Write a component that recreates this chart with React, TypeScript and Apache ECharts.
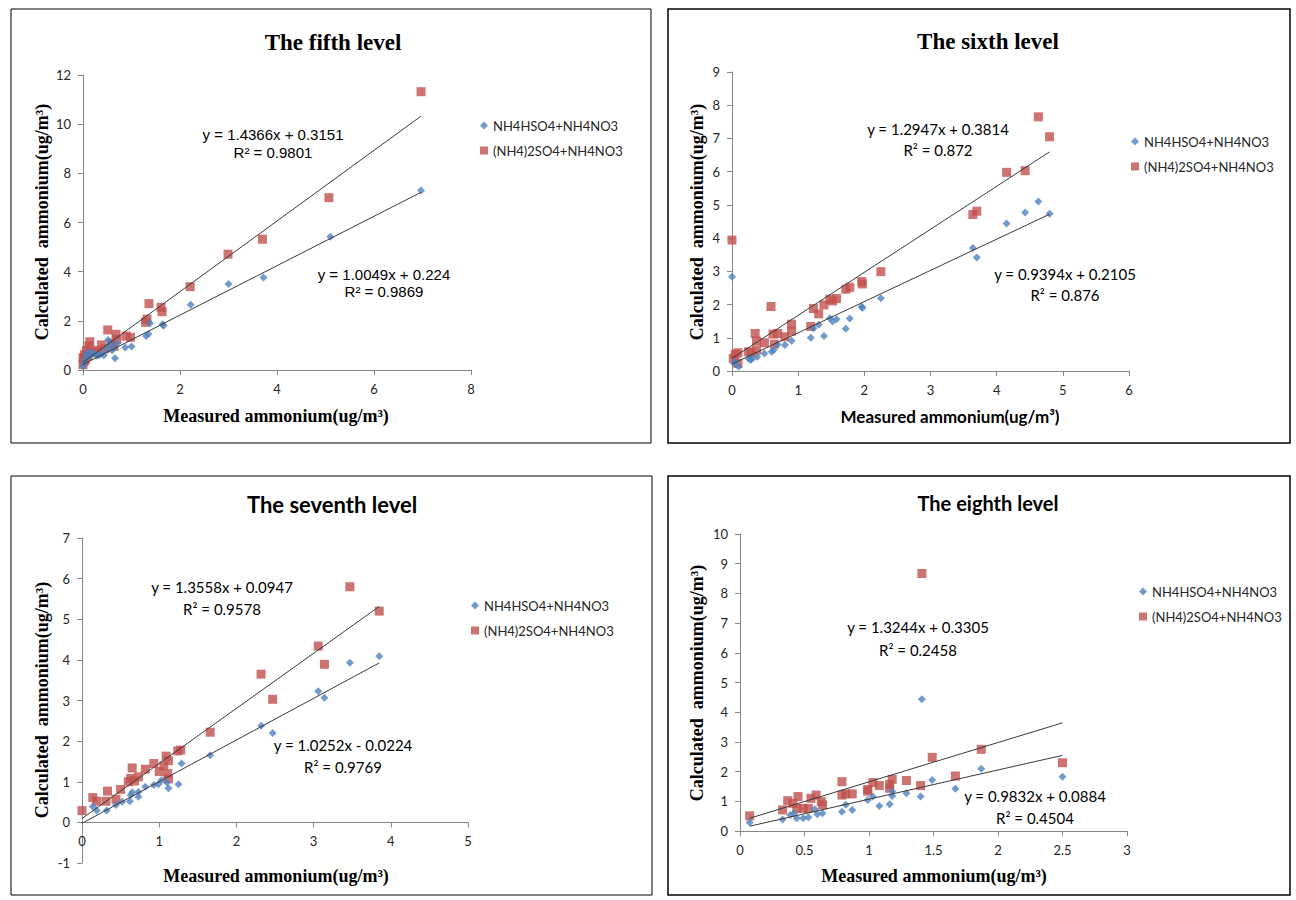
import React, { useEffect, useRef } from "react";
import * as echarts from "echarts";

// ---------- data ----------
const SERIES_NAMES = ["NH4HSO4+NH4NO3", "(NH4)2SO4+NH4NO3"];
const TITLES = ["The fifth level", "The sixth level", "The seventh level", "The eighth level"];
const X_LABEL = "Measured ammonium(ug/m³)";
const Y_LABEL = "Calculated  ammonium(ug/m³)";

const fifthBlue = [
  [0.0, 0.15], [0.02, 0.3], [0.04, 0.45], [0.07, 0.62], [0.1, 0.72], [0.14, 0.55], [0.18, 0.7],
  [0.22, 0.67], [0.28, 0.58], [0.33, 0.6], [0.38, 0.66], [0.43, 0.6], [0.48, 0.85], [0.52, 1.22],
  [0.55, 1.05], [0.6, 0.8], [0.63, 0.88], [0.66, 0.48], [0.7, 1.08], [0.87, 0.92], [1.0, 0.96],
  [1.3, 1.38], [1.35, 1.46], [1.38, 1.9], [1.64, 1.86], [1.66, 1.8], [2.22, 2.65], [3.0, 3.5],
  [3.72, 3.76], [5.1, 5.42], [6.97, 7.3],
];
const fifthRed = [
  [0.0, 0.22], [0.0, 0.5], [0.02, 0.35], [0.03, 0.62], [0.05, 0.42], [0.07, 0.8], [0.1, 0.58],
  [0.12, 0.98], [0.14, 1.15], [0.16, 0.72], [0.25, 0.74], [0.3, 0.8], [0.38, 1.02], [0.45, 0.86],
  [0.51, 1.63], [0.58, 1.08], [0.64, 0.96], [0.68, 1.45], [0.7, 1.25], [0.89, 1.38], [0.98, 1.33],
  [1.29, 1.94], [1.32, 2.07], [1.36, 2.7], [1.61, 2.55], [1.63, 2.37], [2.21, 3.39], [2.99, 4.71],
  [3.7, 5.32], [5.07, 7.01], [6.97, 11.32],
];

const sixthBlue = [
  [0.0, 2.84], [0.03, 0.23], [0.05, 0.28], [0.1, 0.13], [0.25, 0.38], [0.28, 0.33], [0.3, 0.36],
  [0.38, 0.43], [0.49, 0.53], [0.6, 0.58], [0.63, 0.63], [0.69, 0.8], [0.8, 0.78], [0.9, 0.91],
  [1.19, 1.0], [1.23, 1.29], [1.31, 1.39], [1.39, 1.05], [1.48, 1.59], [1.52, 1.49], [1.58, 1.56],
  [1.72, 1.27], [1.78, 1.58], [1.96, 1.94], [1.97, 1.9], [2.25, 2.19], [3.64, 3.7], [3.7, 3.42],
  [4.15, 4.44], [4.43, 4.77], [4.63, 5.1], [4.8, 4.73],
];
const sixthRed = [
  [0.0, 3.94], [0.02, 0.38], [0.05, 0.5], [0.09, 0.23], [0.09, 0.55], [0.25, 0.58], [0.29, 0.55],
  [0.35, 1.13], [0.37, 0.63], [0.37, 0.9], [0.49, 0.85], [0.59, 1.94], [0.62, 1.11], [0.64, 0.81],
  [0.69, 1.13], [0.8, 1.03], [0.9, 1.2], [0.9, 1.41], [1.19, 1.34], [1.23, 1.88], [1.31, 1.72],
  [1.39, 1.99], [1.48, 2.16], [1.52, 2.11], [1.58, 2.18], [1.72, 2.46], [1.78, 2.52], [1.96, 2.69],
  [1.97, 2.62], [2.25, 2.99], [3.64, 4.71], [3.7, 4.81], [4.15, 5.98], [4.43, 6.03], [4.63, 7.65],
  [4.8, 7.05],
];

const seventhBlue = [
  [0.14, 0.39], [0.19, 0.29], [0.32, 0.29], [0.44, 0.43], [0.52, 0.51], [0.62, 0.52], [0.63, 0.67],
  [0.65, 0.74], [0.73, 0.63], [0.73, 0.75], [0.82, 0.88], [0.93, 0.92], [0.99, 0.94], [1.03, 1.04],
  [1.1, 0.98], [1.12, 0.84], [1.25, 0.94], [1.29, 1.45], [1.66, 1.65], [2.32, 2.38], [2.47, 2.2],
  [3.06, 3.23], [3.14, 3.07], [3.47, 3.93], [3.85, 4.09],
];
const seventhRed = [
  [0.0, 0.29], [0.14, 0.61], [0.19, 0.52], [0.31, 0.52], [0.33, 0.77], [0.44, 0.57], [0.5, 0.81],
  [0.6, 1.0], [0.63, 1.08], [0.65, 1.34], [0.68, 1.02], [0.73, 1.12], [0.82, 1.31], [0.93, 1.45],
  [1.0, 1.25], [1.06, 1.39], [1.09, 1.63], [1.11, 1.2], [1.12, 1.07], [1.12, 1.52], [1.24, 1.76],
  [1.28, 1.78], [1.66, 2.22], [2.32, 3.65], [2.47, 3.03], [3.06, 4.34], [3.14, 3.89], [3.47, 5.8],
  [3.85, 5.2],
];

const eighthBlue = [
  [0.075, 0.29], [0.33, 0.39], [0.39, 0.54], [0.42, 0.6], [0.44, 0.43], [0.49, 0.43], [0.53, 0.46],
  [0.58, 0.73], [0.6, 0.56], [0.64, 0.6], [0.79, 0.65], [0.82, 0.88], [0.87, 0.71], [0.99, 1.04],
  [1.03, 1.16], [1.08, 0.84], [1.16, 0.9], [1.18, 1.18], [1.18, 1.33], [1.29, 1.27], [1.4, 1.16],
  [1.41, 4.44], [1.49, 1.72], [1.67, 1.42], [1.87, 2.1], [2.5, 1.83],
];
const eighthRed = [
  [0.075, 0.51], [0.33, 0.71], [0.37, 1.02], [0.41, 0.93], [0.44, 0.76], [0.45, 1.16], [0.49, 0.76],
  [0.53, 0.76], [0.55, 1.1], [0.59, 1.21], [0.63, 0.99], [0.64, 0.88], [0.79, 1.21], [0.79, 1.66],
  [0.82, 1.25], [0.87, 1.25], [0.99, 1.34], [0.99, 1.4], [1.03, 1.63], [1.08, 1.53], [1.16, 1.44],
  [1.16, 1.57], [1.18, 1.74], [1.29, 1.7], [1.4, 1.53], [1.41, 8.67], [1.49, 2.48], [1.67, 1.85],
  [1.87, 2.75], [2.5, 2.3],
];

// trend lines: [slope, intercept], fitted range in x
const blueTrends = [[1.0049, 0.224], [0.9394, 0.2105], [1.0252, -0.0224], [0.9832, 0.0884]];
const redTrends = [[1.4366, 0.3151], [1.2947, 0.3814], [1.3558, 0.0947], [1.3244, 0.3305]];
const trendRanges = [[0, 6.97], [0, 4.8], [0, 3.85], [0.075, 2.5]];
const blueEquations = ["y = 1.0049x + 0.224", "y = 0.9394x + 0.2105", "y = 1.0252x - 0.0224", "y = 0.9832x + 0.0884"];
const blueR2 = ["R² = 0.9869", "R² = 0.876", "R² = 0.9769", "R² = 0.4504"];
const redEquations = ["y = 1.4366x + 0.3151", "y = 1.2947x + 0.3814", "y = 1.3558x + 0.0947", "y = 1.3244x + 0.3305"];
const redR2 = ["R² = 0.9801", "R² = 0.872", "R² = 0.9578", "R² = 0.2458"];

// axis scales
const xMins = [0, 0, 0, 0];
const xMaxs = [8, 6, 5, 3];
const xSteps = [2, 1, 1, 0.5];
const yMins = [0, 0, -1, 0];
const yMaxs = [12, 9, 7, 10];
const ySteps = [2, 1, 1, 1];

const blueData = [fifthBlue, sixthBlue, seventhBlue, eighthBlue];
const redData = [fifthRed, sixthRed, seventhRed, eighthRed];

// ---------- layout ----------
const BLUE = "#4F81BD";
const RED = "#C0504D";
const SERIF = "'Liberation Serif', 'Times New Roman', serif";
const SANS = "Lato, 'Noto Sans', sans-serif";
const ARIAL = "'Liberation Sans', Arial, sans-serif";

const panels = [
  {
    frame: [11, 9, 640, 434], frameW: 1,
    grid: { left: 83, top: 75, width: 388, height: 295 },
    title: { x: 333, y: 42, font: `bold 23px ${SERIF}` },
    xName: { x: 276, y: 416, font: `bold 18px ${SERIF}` },
    yName: { x: 42, y: 222, font: `bold 18px ${SERIF}` },
    legend: { left: 475, top: 114 },
    eqFont: `15px ${ARIAL}`,
    redEq: [273, 134, 152], blueEq: [384, 274, 291],
  },
  {
    frame: [668, 9, 622, 434], frameW: 1.5,
    grid: { left: 732, top: 72, width: 397, height: 299 },
    title: { x: 988, y: 41, font: `bold 23px ${SERIF}` },
    xName: { x: 950, y: 416, font: `bold 17px ${SANS}` },
    yName: { x: 697, y: 222, font: `bold 18px ${SERIF}` },
    legend: { left: 1126, top: 130 },
    eqFont: `15px ${SANS}`,
    redEq: [938, 129, 150], blueEq: [1065, 274, 295],
  },
  {
    frame: [11, 476, 641, 419], frameW: 1,
    grid: { left: 82, top: 538, width: 386, height: 325 },
    title: { x: 332, y: 504, font: `bold 22px ${SANS}` },
    xName: { x: 276, y: 876, font: `bold 18px ${SERIF}` },
    yName: { x: 42, y: 700, font: `bold 18px ${SERIF}` },
    legend: { left: 466, top: 594 },
    eqFont: `15px ${SANS}`,
    redEq: [222, 587, 609], blueEq: [343, 745, 767],
  },
  {
    frame: [668, 476, 622, 419], frameW: 1.5,
    grid: { left: 740, top: 534, width: 387, height: 297 },
    title: { x: 988, y: 503, font: `bold 20px ${SANS}` },
    xName: { x: 934, y: 876, font: `bold 18px ${SERIF}` },
    yName: { x: 697, y: 683, font: `bold 18px ${SERIF}` },
    legend: { left: 1134, top: 580 },
    eqFont: `15px ${SANS}`,
    redEq: [918, 627, 650], blueEq: [1035, 796, 818],
  },
];

function buildOption() {
  const grid: any[] = [];
  const xAxis: any[] = [];
  const yAxis: any[] = [];
  const series: any[] = [];
  const legend: any[] = [];
  const graphic: any[] = [];

  const axisCommon = {
    type: "value",
    axisLine: { show: true, onZero: false, lineStyle: { color: "#868686", width: 1 } },
    axisTick: { show: true, inside: false, length: 5, lineStyle: { color: "#868686" } },
    splitLine: { show: false },
    axisLabel: { color: "#262626", fontFamily: SANS, fontSize: 13, margin: 12 },
  };

  panels.forEach((p, i) => {
    grid.push({ ...p.grid, containLabel: false });
    // x axis sits at y = 0: shift it up from the grid bottom when the y range goes below zero
    const zeroOffset = yMins[i] < 0 ? -(p.grid.height * (0 - yMins[i])) / (yMaxs[i] - yMins[i]) : 0;
    xAxis.push({
      ...axisCommon,
      gridIndex: i,
      position: "bottom",
      offset: zeroOffset,
      min: xMins[i],
      max: xMaxs[i],
      interval: xSteps[i],
    });
    yAxis.push({
      ...axisCommon,
      gridIndex: i,
      min: yMins[i],
      max: yMaxs[i],
      interval: ySteps[i],
    });

    series.push({
      name: SERIES_NAMES[0],
      type: "scatter",
      xAxisIndex: i,
      yAxisIndex: i,
      symbol: "diamond",
      symbolSize: 8,
      itemStyle: { color: BLUE },
      data: blueData[i],
      z: 3,
    });
    series.push({
      name: SERIES_NAMES[1],
      type: "scatter",
      xAxisIndex: i,
      yAxisIndex: i,
      symbol: "rect",
      symbolSize: 9,
      itemStyle: { color: RED },
      data: redData[i],
      z: 2,
    });

    const [x0, x1] = trendRanges[i];
    const trendPairs = [blueTrends[i], redTrends[i]];
    trendPairs.forEach(([m, b]) => {
      series.push({
        type: "line",
        xAxisIndex: i,
        yAxisIndex: i,
        symbol: "none",
        silent: true,
        lineStyle: { color: "#3a3a3a", width: 1 },
        data: [
          [x0, m * x0 + b],
          [x1, m * x1 + b],
        ],
        z: 4,
      });
    });

    legend.push({
      data: SERIES_NAMES,
      orient: "vertical",
      left: p.legend.left,
      top: p.legend.top,
      itemGap: 12,
      itemWidth: 8,
      itemHeight: 8,
      selectedMode: false,
      textStyle: { fontFamily: SANS, fontSize: 13, color: "#262626" },
    });

    graphic.push({
      type: "rect",
      shape: { x: p.frame[0], y: p.frame[1], width: p.frame[2], height: p.frame[3] },
      style: { fill: "none", stroke: "#000", lineWidth: p.frameW },
      silent: true,
      z: 0,
    });
    graphic.push({
      type: "text",
      x: p.title.x,
      y: p.title.y,
      style: { text: TITLES[i], font: p.title.font, fill: "#000", textAlign: "center", textVerticalAlign: "middle" },
    });
    graphic.push({
      type: "text",
      x: p.xName.x,
      y: p.xName.y,
      style: { text: X_LABEL, font: p.xName.font, fill: "#000", textAlign: "center", textVerticalAlign: "middle" },
    });
    graphic.push({
      type: "text",
      x: p.yName.x,
      y: p.yName.y,
      rotation: Math.PI / 2,
      style: { text: Y_LABEL, font: p.yName.font, fill: "#000", textAlign: "center", textVerticalAlign: "middle" },
    });
    const eqs: [string, number, number][] = [
      [redEquations[i], p.redEq[0], p.redEq[1]],
      [redR2[i], p.redEq[0], p.redEq[2]],
      [blueEquations[i], p.blueEq[0], p.blueEq[1]],
      [blueR2[i], p.blueEq[0], p.blueEq[2]],
    ];
    eqs.forEach(([t, x, y]) => {
      graphic.push({
        type: "text",
        x,
        y,
        z: 10,
        style: { text: t, font: p.eqFont, fill: "#000", textAlign: "center", textVerticalAlign: "middle" },
      });
    });
  });

  return {
    animation: false,
    backgroundColor: "#fff",
    grid,
    xAxis,
    yAxis,
    series,
    legend,
    graphic,
  };
}

export default function App() {
  const ref = useRef<HTMLDivElement>(null);
  useEffect(() => {
    document.body.style.margin = "0";
    if (!ref.current) return;
    const chart = echarts.init(ref.current, undefined, { renderer: "svg" });
    chart.setOption(buildOption() as any);
    return () => chart.dispose();
  }, []);
  return <div ref={ref} style={{ width: 1296, height: 900, background: "#fff" }} />;
}
